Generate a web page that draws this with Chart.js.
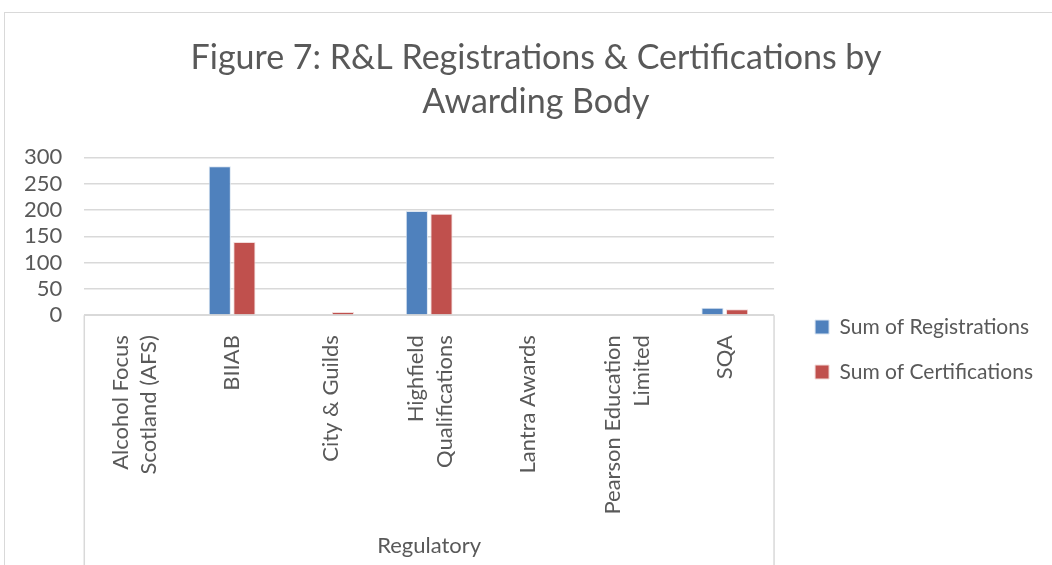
<!DOCTYPE html>
<html>
<head>
<meta charset="utf-8">
<script src="https://cdn.jsdelivr.net/npm/chart.js@4.4.1/dist/chart.umd.min.js"></script>
<style>
  html, body { margin: 0; padding: 0; background: #fff; }
  #wrap { position: relative; width: 1052px; height: 565px; overflow: hidden; }
  #frame { position: absolute; left: 4px; top: 12px; width: 1060px; height: 570px; border: 1px solid #d9d9d9; box-sizing: border-box; pointer-events: none; }
  canvas { position: absolute; left: 0; top: 0; }
</style>
</head>
<body>
<div id="wrap">
  <canvas id="chart" width="1052" height="565"></canvas>
  <div id="frame"></div>
</div>
<script>
// datos
const categories = [
  ['Alcohol Focus', 'Scotland (AFS)'],
  'BIIAB',
  'City & Guilds',
  ['Highfield', 'Qualifications'],
  'Lantra Awards',
  ['Pearson Education', 'Limited'],
  'SQA'
];
const registrations = [0, 283, 0, 198, 0, 0, 14];
const certifications = [0, 139, 6, 193, 0, 0, 11];
const yTicks = [0, 50, 100, 150, 200, 250, 300];

const grey = '#595959';
const fontFamily = 'Lato, "Open Sans", sans-serif';

// lineas del eje de categorias (estilo Excel)
const axisBox = {
  id: 'axisBox',
  afterLayout(chart) {
    // mover titulo y leyenda como en el original
    chart.titleBlock.left += 22;
    chart.titleBlock.right += 22;
    chart.legend.left += 17;
    chart.legend.right += 17;
    chart.legend.top += 52;
    chart.legend.bottom += 52;
  },
  afterDatasetsDraw(chart) {
    const { ctx, chartArea } = chart;
    ctx.save();
    ctx.strokeStyle = '#d9d9d9';
    ctx.lineWidth = 1.5;
    ctx.beginPath();
    ctx.moveTo(chartArea.left, chartArea.bottom);
    ctx.lineTo(chartArea.right, chartArea.bottom);
    ctx.moveTo(chartArea.left, chartArea.bottom);
    ctx.lineTo(chartArea.left, chart.height);
    ctx.moveTo(chartArea.right, chartArea.bottom);
    ctx.lineTo(chartArea.right, chart.height);
    ctx.stroke();
    ctx.restore();
  }
};

new Chart(document.getElementById('chart'), {
  type: 'bar',
  data: {
    labels: categories,
    datasets: [{
      label: 'Sum of Registrations',
      data: registrations,
      backgroundColor: '#4f81bd',
      borderColor: '#dce6f2',
      borderWidth: 1,
      categoryPercentage: 0.5,
      barPercentage: 0.9
    }, {
      label: 'Sum of Certifications',
      data: certifications,
      backgroundColor: '#c0504d',
      borderColor: '#f2dcdb',
      borderWidth: 1,
      categoryPercentage: 0.5,
      barPercentage: 0.9
    }]
  },
  options: {
    responsive: false,
    animation: false,
    layout: { padding: { left: 2, right: 26, top: 36, bottom: 6 } },
    plugins: {
      title: {
        display: true,
        text: ['Figure 7: R&L Registrations & Certifications by', 'Awarding Body'],
        color: grey,
        font: { family: fontFamily, size: 34, weight: 'normal', lineHeight: 1.3 },
        padding: { top: 0, bottom: 33 }
      },
      legend: {
        position: 'right',
        labels: {
          color: grey,
          font: { family: fontFamily, size: 21 },
          boxWidth: 14,
          boxHeight: 14,
          padding: 24
        }
      },
      tooltip: { enabled: false }
    },
    scales: {
      x: {
        grid: { display: false },
        border: { display: false },
        ticks: {
          color: grey,
          // etiquetas de una linea: linea vacia delante para quedar centradas
          callback: (value, i) => Array.isArray(categories[i]) ? categories[i] : ['', categories[i]],
          font: ctx => ({
            family: fontFamily,
            size: 22,
            lineHeight: Array.isArray(categories[ctx.index]) ? 1.3 : 0.6
          }),
          labelOffset: -13,
          maxRotation: 90,
          minRotation: 90,
          autoSkip: false,
          padding: 12
        },
        title: {
          display: true,
          text: 'Regulatory',
          color: grey,
          font: { family: fontFamily, size: 22 },
          padding: { top: 6, bottom: 0 }
        }
      },
      y: {
        min: 0,
        max: 300,
        afterBuildTicks(scale) {
          scale.ticks = yTicks.map(v => ({ value: v }));
        },
        grid: { color: '#d9d9d9', lineWidth: 1.5, drawTicks: false },
        border: { display: false },
        ticks: {
          color: grey,
          font: { family: fontFamily, size: 22 },
          autoSkip: false,
          padding: 22
        }
      }
    }
  },
  plugins: [axisBox]
});
</script>
</body>
</html>
